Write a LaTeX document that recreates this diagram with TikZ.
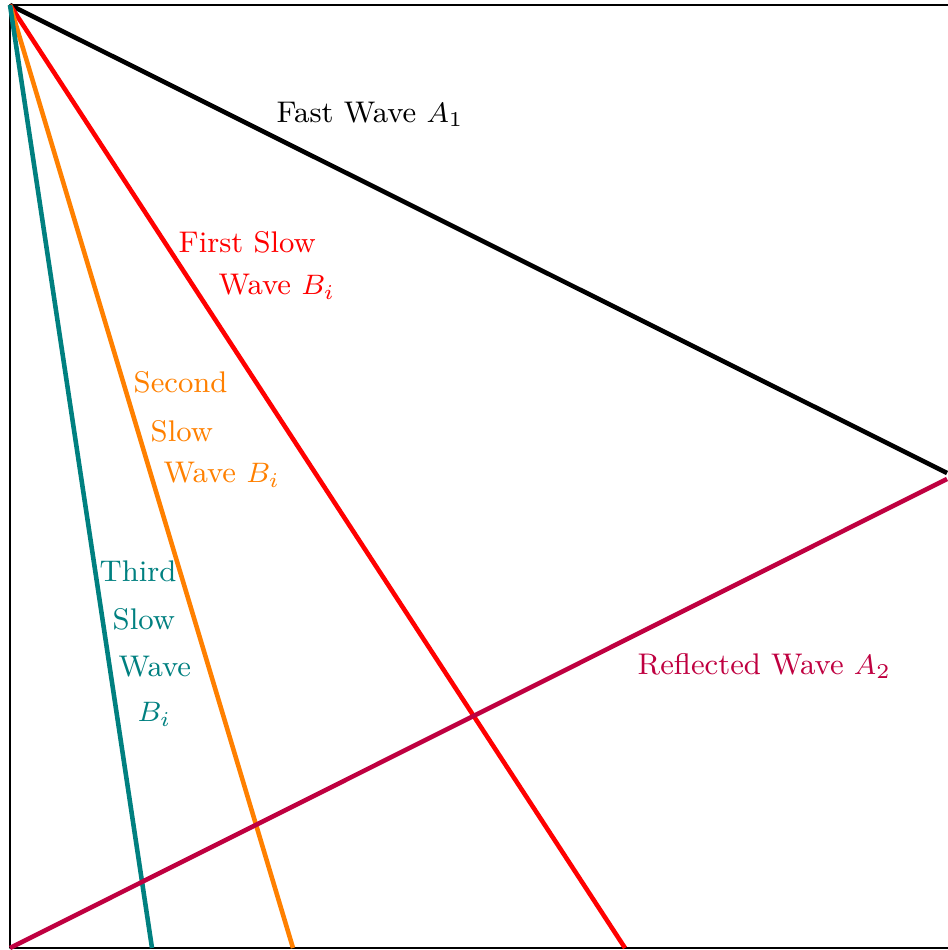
\documentclass[tikz,border=0pt]{standalone}
\usepackage{amsmath,amssymb}
\usepackage{xcolor}
\usepackage{tikz}
\usetikzlibrary{calc}

\begin{document}
\begin{tikzpicture}[line join=round,
  wave/.style={line width=1.3pt},
  lbl/.style={anchor=base west,inner sep=0pt,font=\fontsize{8.5}{10}\selectfont}]
  \useasboundingbox (0,0) rectangle (9.47,9.50);
  \coordinate (SW) at (0.100,0.020);
  \coordinate (NE) at (9.500,9.450);
  \coordinate (O) at (0.100,9.450);
  \coordinate (FA) at (9.470,4.770);
  \coordinate (RA) at (9.470,4.710);
  \coordinate (S1) at (6.250,0.020);
  \coordinate (S2) at (2.930,0.020);
  \coordinate (S3) at (1.520,0.020);
  \draw[line width=0.4pt] (SW) rectangle (NE);
  \draw[wave,black] (O) -- (FA);
  \draw[wave,red] (O) -- (S1);
  \draw[wave,orange] (O) -- (S2);
  \draw[wave,teal] (O) -- (S3);
  \draw[wave,purple] (RA) -- (SW);
  \node[lbl,black] (fast) at (2.760,8.270) {Fast Wave $A_1$};
  \node[lbl,red] (first1) at (1.780,6.970) {First Slow};
  \node[lbl,red] (first2) at (2.180,6.550) {Wave $B_i$};
  \node[lbl,orange] (second1) at (1.330,5.570) {Second};
  \node[lbl,orange] (second2) at (1.500,5.080) {Slow};
  \node[lbl,orange] (second3) at (1.630,4.670) {Wave $B_i$};
  \node[lbl,teal] (third1) at (0.990,3.680) {Third};
  \node[lbl,teal] (third2) at (1.120,3.200) {Slow};
  \node[lbl,teal] (third3) at (1.180,2.730) {Wave};
  \node[lbl,teal] (third4) at (1.370,2.280) {$B_i$};
  \node[lbl,purple] (refl) at (6.370,2.750) {Reflected Wave $A_2$};
\end{tikzpicture}
\end{document}
